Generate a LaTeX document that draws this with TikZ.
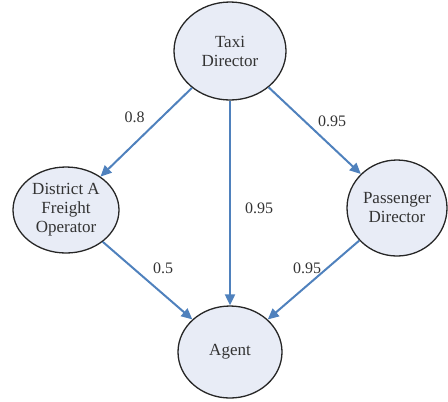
\documentclass[tikz,border=0pt]{standalone}
\usepackage{fontspec}
\setmainfont{Liberation Serif}
\usetikzlibrary{shapes.geometric,arrows.meta}
\definecolor{nodefill}{HTML}{E8ECF6}
\definecolor{arrowblue}{HTML}{4F81BD}
\definecolor{txt}{HTML}{333333}
\begin{document}
\begin{tikzpicture}[x=1bp,y=-1bp,
  agentnode/.style={ellipse,draw=black!85,line width=1.3bp,fill=nodefill,inner sep=0pt,
    align=center,text=txt,font=\fontsize{17bp}{19bp}\selectfont},
  arr/.style={draw=arrowblue,line width=2bp,-{Triangle[length=11bp,width=10bp]}},
  wlabel/.style={text=txt,font=\fontsize{16bp}{18bp}\selectfont,inner sep=0pt}]
\useasboundingbox (0,0) rectangle (448,401);
\node[agentnode,minimum width=112bp,minimum height=98bp] (taxi) at (230,51) {Taxi\\Director};
\node[agentnode,minimum width=106bp,minimum height=86bp] (district) at (66,210) {District A\\Freight\\Operator};
\node[agentnode,minimum width=104bp,minimum height=92bp] (agent) at (230,352) {Agent};
\node[agentnode,minimum width=100bp,minimum height=96bp] (pass) at (397,208) {Passenger\\Director};
\draw[arr] (taxi) -- (district);
\draw[arr] (taxi) -- (agent);
\draw[arr] (taxi) -- (pass);
\draw[arr] (district) -- (agent);
\draw[arr] (pass) -- (agent);
\node[wlabel] (l1) at (134.5,117) {0.8};
\node[wlabel] (l2) at (332,121) {0.95};
\node[wlabel] (l3) at (259,208) {0.95};
\node[wlabel] (l4) at (163,268) {0.5};
\node[wlabel] (l5) at (307,268) {0.95};
\end{tikzpicture}
\end{document}
